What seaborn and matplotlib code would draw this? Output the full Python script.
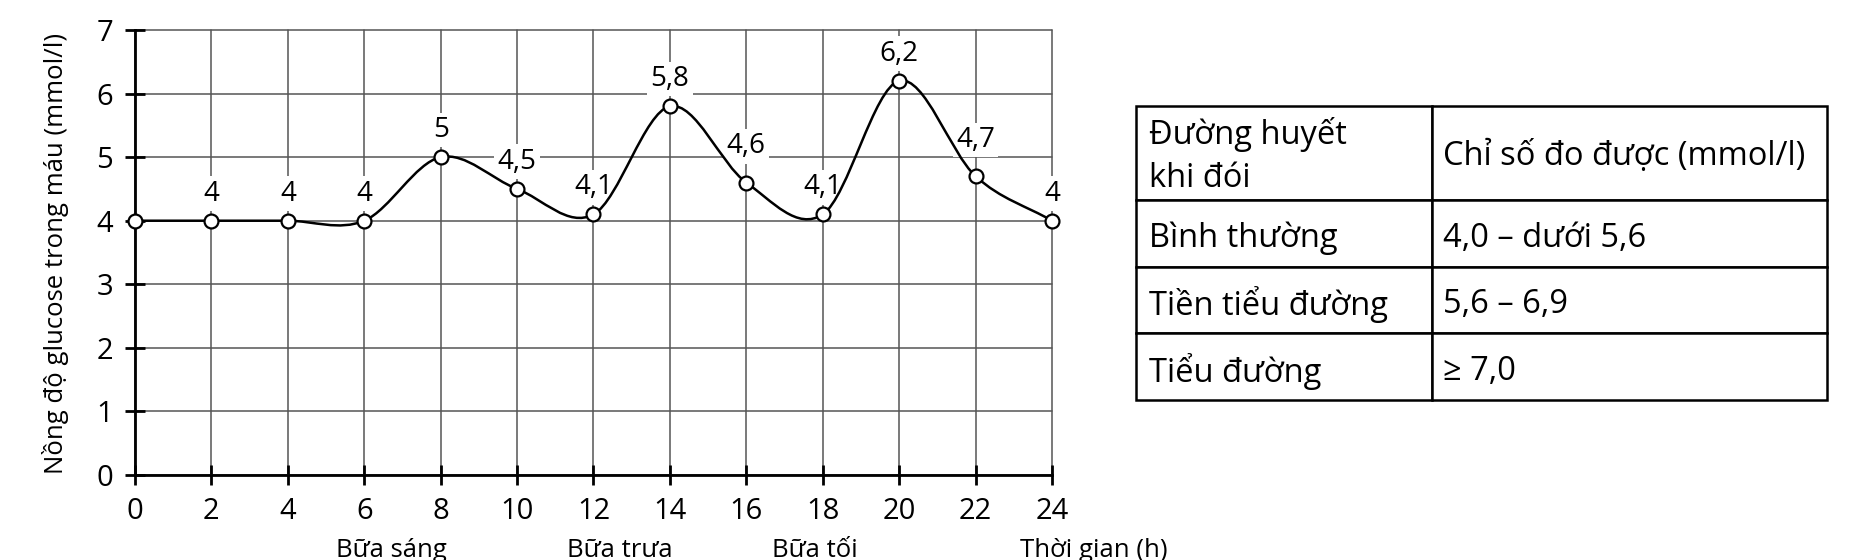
import numpy as np
import pandas as pd
import matplotlib
matplotlib.use("Agg")
import matplotlib.pyplot as plt
from matplotlib.path import Path
from matplotlib.patches import PathPatch
from matplotlib.transforms import blended_transform_factory, Affine2D
import seaborn as sns

# ---------------- data ----------------
hours = [0, 2, 4, 6, 8, 10, 12, 14, 16, 18, 20, 22, 24]
glucose = [4.0, 4.0, 4.0, 4.0, 5.0, 4.5, 4.1, 5.8, 4.6, 4.1, 6.2, 4.7, 4.0]
show_label = [False] + [True] * 12
x_ticks = list(range(0, 25, 2))
y_ticks = list(range(0, 8))
meal_names = ["Bữa sáng", "Bữa trưa", "Bữa tối"]
meal_hours = [6.7, 12.7, 17.8]
x_title = "Thời gian (h)"
y_title = "Nồng độ glucose trong máu (mmol/l)"
table_header = ["Đường huyết\nkhi đói", "Chỉ số đo được (mmol/l)"]
table_levels = ["Bình thường", "Tiền tiểu đường", "Tiểu đường"]
table_ranges = ["4,0 – dưới 5,6", "5,6 – 6,9", "≥ 7,0"]

# label nudges (points) for labels lifted a bit more in the reference
label_nudge = {16: 6.5, 22: 6.5}

# ---------------- style ----------------
sns.set_theme(style="white")
plt.rcParams["font.family"] = ["Open Sans", "DejaVu Sans"]

W, H = 1858, 560
fig = plt.figure(figsize=(W / 100, H / 100), dpi=100)
ax = fig.add_axes([135 / W, 1 - 475 / H, (1052 - 135) / W, (475 - 30) / H])

df = pd.DataFrame({"hour": hours, "glucose": glucose})

# smooth curve (Catmull-Rom drawn as cubic Bezier path through the data points)
pts = df[["hour", "glucose"]].to_numpy(dtype=float)
ext = np.vstack([2 * pts[0] - pts[1], pts, 2 * pts[-1] - pts[-2]])
verts = [pts[0]]
codes = [Path.MOVETO]
for i in range(len(pts) - 1):
    p0, p1, p2, p3 = ext[i], ext[i + 1], ext[i + 2], ext[i + 3]
    verts += [p1 + (p2 - p0) / 6, p2 - (p3 - p1) / 6, p2]
    codes += [Path.CURVE4] * 3
ax.add_patch(PathPatch(Path(verts, codes), fc="none", ec="black", lw=1.8, zorder=3))

sns.scatterplot(data=df, x="hour", y="glucose", ax=ax, s=100, color="white",
                edgecolor="black", linewidth=1.6, zorder=5, clip_on=False)

for h, v, show in zip(hours, glucose, show_label):
    if not show:
        continue
    txt = f"{v:g}".replace(".", ",")
    ax.annotate(txt, (h, v), xytext=(0, 14.5 + label_nudge.get(h, 0)),
                textcoords="offset points", ha="center", va="baseline",
                fontsize=20, color="black", zorder=2.5,
                bbox=dict(boxstyle="square,pad=0.12", fc="white", ec="none"))

ax.set_xlim(0, 24)
ax.set_ylim(0, 7)
ax.set_xticks(x_ticks)
ax.set_yticks(y_ticks)
ax.set_xlabel("")
ax.set_ylabel("")
ax.set_axisbelow(True)
ax.grid(True, color="#555555", lw=1.1)
for gl in ax.get_xgridlines() + ax.get_ygridlines():
    gl.set_clip_on(False)
for side in ["top", "right"]:
    ax.spines[side].set_visible(False)
for side in ["left", "bottom"]:
    ax.spines[side].set_color("black")
    ax.spines[side].set_linewidth(2)
ax.tick_params(axis="both", direction="inout", length=13.7, width=2,
               color="black", labelsize=21, labelcolor="black", pad=9)
ax.tick_params(axis="x", bottom=True)
ax.tick_params(axis="y", left=True)

fig.text(56 / W, 1 - 253 / H, y_title, rotation=90, ha="center", va="center",
         fontsize=18.5, color="black")

tr = blended_transform_factory(ax.transData, fig.transFigure)
for name, hx in zip(meal_names, meal_hours):
    ax.text(hx, 3 / H, name, transform=tr, ha="center", va="baseline",
            fontsize=18.5, color="black", clip_on=False)
ax.text(25.1, 3 / H, x_title, transform=tr, ha="center", va="baseline",
        fontsize=18.5, color="black", clip_on=False)

# ---------------- table ----------------
tl, tt, tr_, tb = 1136, 106, 1827, 400
tax = fig.add_axes([tl / W, 1 - tb / H, (tr_ - tl) / W, (tb - tt) / H])
tax.axis("off")
cell_text = [table_header] + [[a, b] for a, b in zip(table_levels, table_ranges)]
col0 = 1432 - tl
col1 = tr_ - 1432
tbl = tax.table(cellText=cell_text, cellLoc="left", bbox=[0, 0, 1, 1],
                colWidths=[col0 / (col0 + col1), col1 / (col0 + col1)])
tbl.auto_set_font_size(False)
for (r, c), cell in tbl.get_celld().items():
    cell.set_height(94 if r == 0 else 66.7)
    cell.set_linewidth(1.8)
    cell.set_edgecolor("black")
    cell.set_facecolor("white")
    cell.PAD = 13 / col0 if c == 0 else 11 / col1
    t = cell.get_text()
    t.set_fontsize(23.5)
    t.set_linespacing(1.42)
    t.set_color("black")
    # text position is given in display pixels; nudge it slightly down
    t.set_transform(Affine2D().translate(0, -5 if r > 0 else -3))

fig.savefig("out.png", dpi=100)
